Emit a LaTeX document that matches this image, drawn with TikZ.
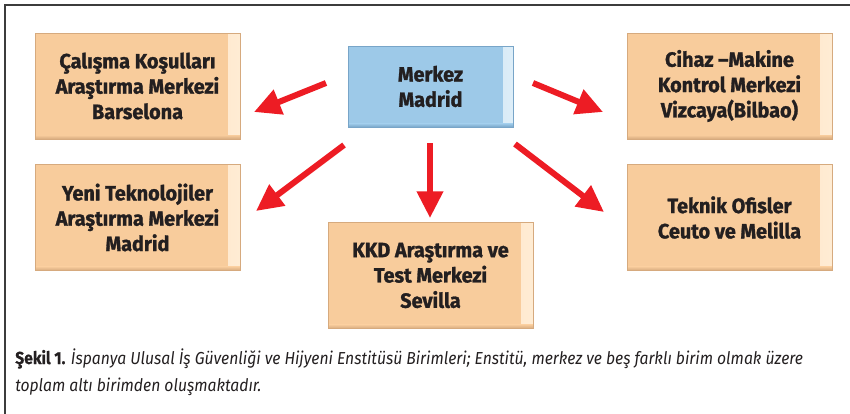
\documentclass[tikz,border=0pt]{standalone}
\usepackage{fontspec}
\setmainfont{Fira Sans}
\newfontfamily\boxfont{Fira Sans}[FakeStretch=0.96,BoldFeatures={FakeStretch=0.96,FakeBold=1.3}]
\newfontfamily\capfont{Fira Sans}[FakeStretch=0.905,BoldFeatures={FakeStretch=0.905,FakeBold=0.8},ItalicFeatures={FakeStretch=0.905}]
\usetikzlibrary{arrows.meta}
\definecolor{peach}{RGB}{248,204,156}
\definecolor{peachlight}{RGB}{255,236,212}
\definecolor{peachdark}{RGB}{214,170,126}
\definecolor{skyb}{RGB}{157,201,232}
\definecolor{skylight}{RGB}{222,238,248}
\definecolor{skydark}{RGB}{120,165,200}
\definecolor{arrred}{RGB}{237,28,36}
\definecolor{framegray}{RGB}{60,60,60}
\definecolor{txt}{RGB}{35,31,32}
\tikzset{
  unitbox/.style={draw=peachdark, line width=0.5pt, fill=peach,
    minimum width=153.75pt, minimum height=79.5pt, inner sep=0pt,
    align=center, text=txt, font=\boxfont\bfseries\fontsize{15.5}{19}\selectfont,
    path picture={
      \shade[left color=peach, right color=peachlight, shading angle=90]
        ([xshift=-9pt]path picture bounding box.north east) rectangle (path picture bounding box.south east);
      \shade[top color=peach, bottom color=peachdark]
        ([yshift=3pt]path picture bounding box.south west) rectangle (path picture bounding box.south east);
    }},
  centerbox/.style={draw=skydark, line width=0.5pt, fill=skyb,
    minimum width=123.75pt, minimum height=60.75pt, inner sep=0pt,
    align=center, text=txt, font=\boxfont\bfseries\fontsize{15.5}{19}\selectfont,
    path picture={
      \shade[left color=skyb, right color=skylight]
        ([xshift=-7pt]path picture bounding box.north east) rectangle (path picture bounding box.south east);
      \shade[top color=skyb, bottom color=skydark]
        ([yshift=2.5pt]path picture bounding box.south west) rectangle (path picture bounding box.south east);
    }},
  redarrow/.style={draw=arrred, line width=4.5pt,
    -{Triangle[width=19pt,length=20pt]}, arrred},
  frameline/.style={draw=framegray, line width=1.5pt}
}
\begin{document}
\begin{tikzpicture}[x=0.75pt,y=-0.75pt]
\useasboundingbox (0,0) rectangle (850,414);
\coordinate (fb) at (5,414);
\coordinate (fc) at (5,5);
\coordinate (fr) at (850,5);
\draw[frameline] (fb) -- (fc) -- (fr);

\node[centerbox] (c) at (430.5,86.5) {Merkez\\Madrid};
\node[unitbox] (b1) at (137.5,86) {Çalışma Koşulları\\Araştırma Merkezi\\Barselona};
\node[unitbox] (b2) at (137.5,217.5) {Yeni Teknolojiler\\Araştırma Merkezi\\Madrid};
\node[unitbox] (b3) at (729.5,86) {Cihaz –Makine\\Kontrol Merkezi\\Vizcaya(Bilbao)};
\node[unitbox] (b4) at (430.5,275.5) {KKD Araştırma ve\\Test Merkezi\\Sevilla};
\node[unitbox] (b5) at (729.5,217.5) {Teknik Ofisler\\Ceuto ve Melilla};

\coordinate (s1) at (326,83);  \coordinate (e1) at (254,112);
\coordinate (s2) at (344,145); \coordinate (e2) at (256,211);
\coordinate (s3) at (533,83);  \coordinate (e3) at (603,112);
\coordinate (s4) at (515,144); \coordinate (e4) at (604,212);
\coordinate (s5) at (430,143); \coordinate (e5) at (430,218);
\draw[redarrow] (s1) -- (e1);
\draw[redarrow] (s2) -- (e2);
\draw[redarrow] (s3) -- (e3);
\draw[redarrow] (s4) -- (e4);
\draw[redarrow] (s5) -- (e5);

\node[anchor=base west, inner sep=0pt, text=txt, font=\capfont\fontsize{13}{15}\selectfont] (cap1) at (15,364)
  {\textbf{Şekil 1.} \itshape İspanya Ulusal İş Güvenliği ve Hijyeni Enstitüsü Birimleri; Enstitü, merkez ve beş farklı birim olmak üzere};
\node[anchor=base west, inner sep=0pt, text=txt, font=\capfont\itshape\fontsize{13}{15}\selectfont] (cap2) at (15,391)
  {toplam altı birimden oluşmaktadır.};
\end{tikzpicture}
\end{document}
